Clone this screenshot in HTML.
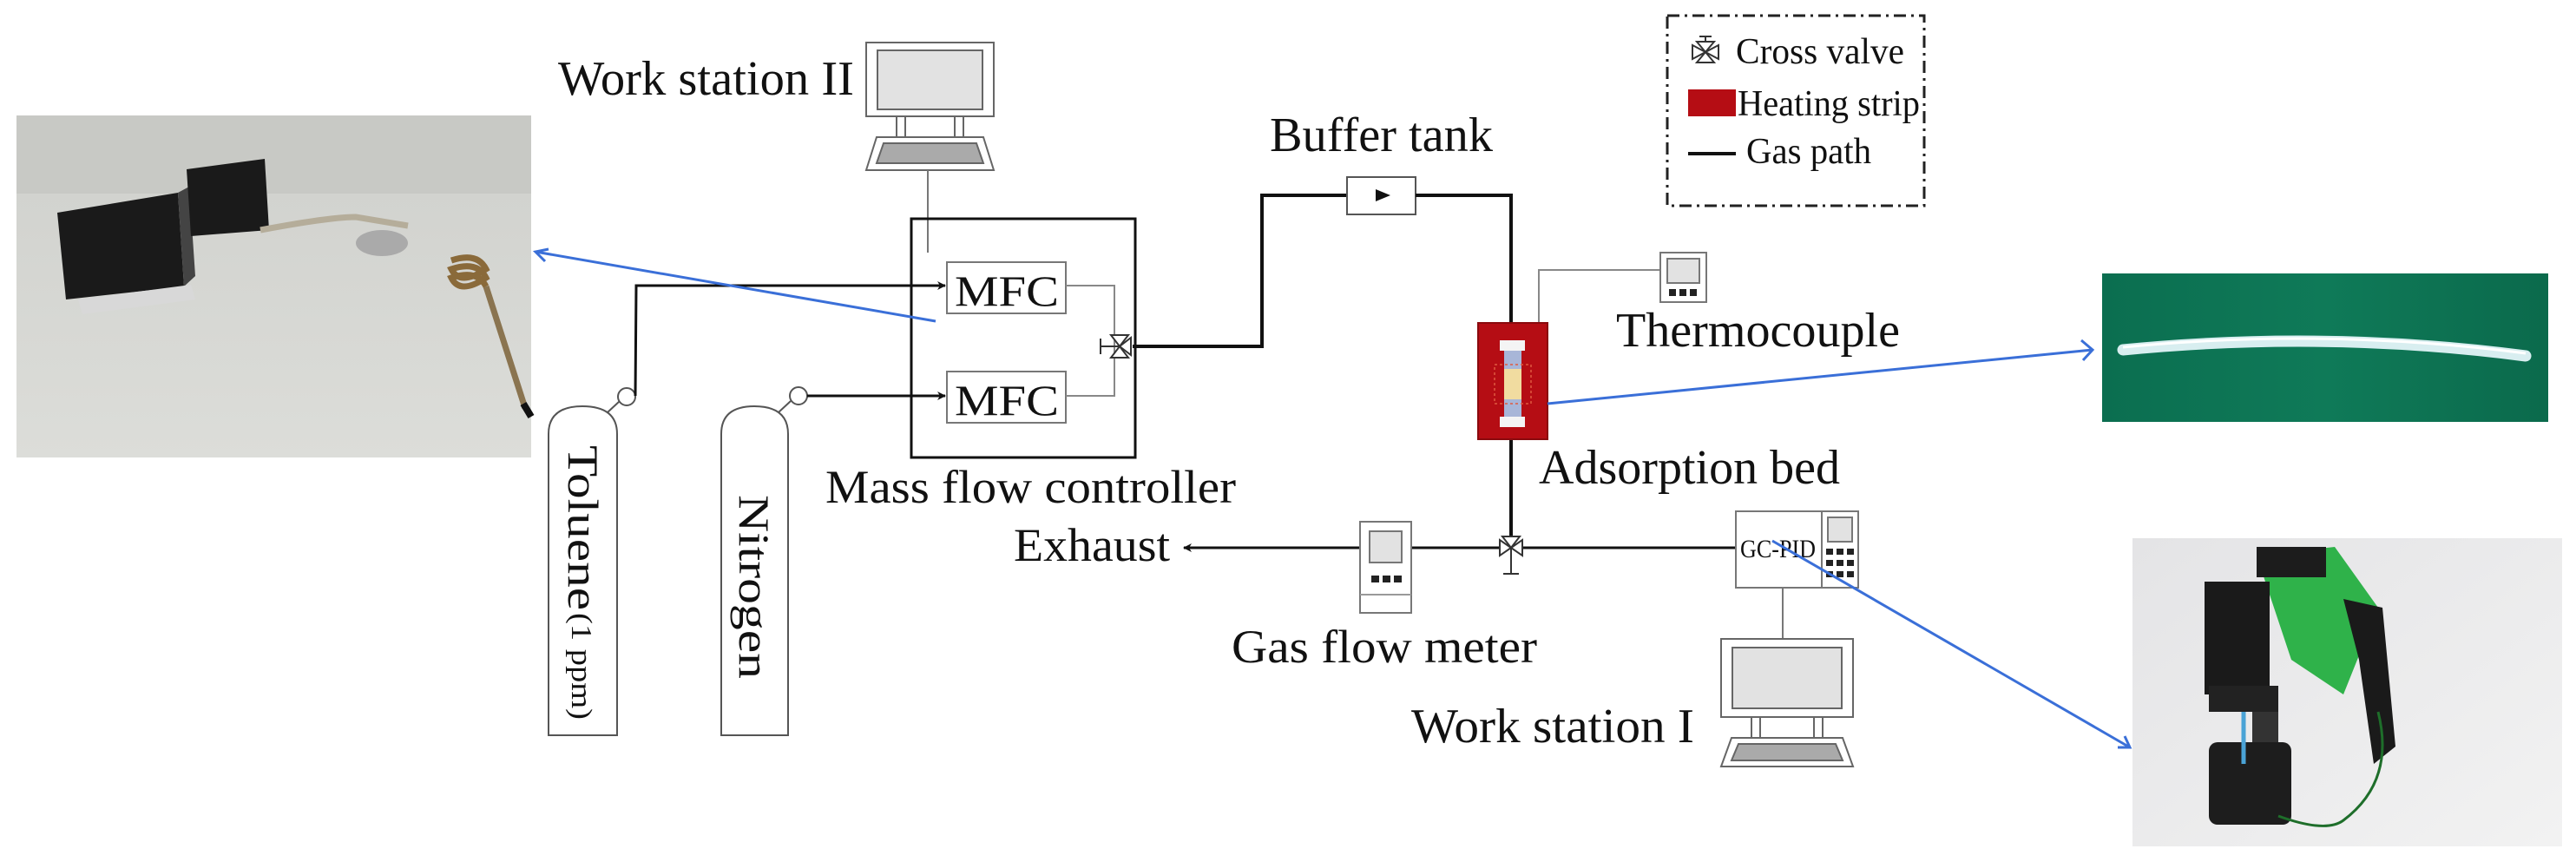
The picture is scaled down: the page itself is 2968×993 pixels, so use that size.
<!DOCTYPE html>
<html><head><meta charset="utf-8"><style>
html,body{margin:0;padding:0;background:#fff;}
svg{display:block;}
text{font-family:"Liberation Serif",serif;fill:#111;}
</style></head><body>
<svg width="2968" height="993" viewBox="0 0 2968 993" xmlns="http://www.w3.org/2000/svg">
<defs>
<marker id="ah" markerWidth="10" markerHeight="10" refX="9" refY="5" orient="auto" markerUnits="userSpaceOnUse"><path d="M0,0 L10,5 L0,10 L3,5 Z" fill="#111"/></marker>
<linearGradient id="gl" x1="0" y1="0" x2="0" y2="1"><stop offset="0" stop-color="#cfd0cc"/><stop offset="1" stop-color="#dcddd9"/></linearGradient>
<linearGradient id="gg" x1="0" y1="0" x2="1" y2="0"><stop offset="0" stop-color="#0b6e50"/><stop offset="0.5" stop-color="#0f7a58"/><stop offset="1" stop-color="#0b6a4c"/></linearGradient>
<linearGradient id="gb" x1="0" y1="0" x2="1" y2="1"><stop offset="0" stop-color="#e4e4e6"/><stop offset="1" stop-color="#f2f2f2"/></linearGradient>
</defs>

<!-- Left photo -->
<rect x="19" y="133" width="593" height="394" fill="url(#gl)"/>
<rect x="19" y="133" width="593" height="90" fill="#c8c9c5"/>
<polygon points="66,245 205,222 212,330 76,345" fill="#1a1a1a"/>
<polygon points="205,222 212,330 225,318 218,215" fill="#444"/>
<polygon points="215,195 305,183 310,265 220,272" fill="#1a1a1a"/>
<polygon points="90,345 220,328 225,345 95,362" fill="#d8d8d8"/>
<path d="M300,265 Q380,250 410,250 L470,260" stroke="#b5ad9a" stroke-width="7" fill="none"/>
<ellipse cx="440" cy="280" rx="30" ry="15" fill="#aaa"/>
<path d="M520,300 q30,-10 40,10 q-30,20 -40,0 q30,-10 40,10 q-30,20 -40,0 q30,-10 40,10" stroke="#8a6a3a" stroke-width="7" fill="none"/>
<path d="M560,330 L605,470" stroke="#8a7450" stroke-width="7"/>
<path d="M603,465 L612,480" stroke="#111" stroke-width="8"/>

<!-- Work station II -->
<text x="643" y="109" font-size="56" textLength="341" lengthAdjust="spacingAndGlyphs">Work station II</text>
<g stroke="#666" stroke-width="2" fill="#fff">
<rect x="998" y="49" width="147" height="85"/>
<rect x="1011" y="58" width="121" height="68" fill="#e2e2e2"/>
<rect x="1033" y="134" width="10" height="24"/><rect x="1100" y="134" width="10" height="24"/>
<polygon points="1010,158 1133,158 1145,196 998,196"/>
<polygon points="1018,165 1125,165 1133,188 1010,188" fill="#aaa"/>
</g>
<line x1="1069" y1="196" x2="1069" y2="291" stroke="#777" stroke-width="2"/>

<!-- MFC box -->
<rect x="1050" y="252" width="258" height="275" fill="none" stroke="#111" stroke-width="3"/>
<rect x="1091" y="302" width="137" height="59" fill="#fff" stroke="#777" stroke-width="2"/>
<rect x="1091" y="428" width="137" height="59" fill="#fff" stroke="#777" stroke-width="2"/>
<text x="1100" y="352" font-size="50" textLength="120" lengthAdjust="spacingAndGlyphs">MFC</text>
<text x="1100" y="478" font-size="50" textLength="120" lengthAdjust="spacingAndGlyphs">MFC</text>
<polyline points="1228,329 1284,329 1284,456 1228,456" fill="none" stroke="#888" stroke-width="2"/>
<!-- valve at 1290,399 -->
<g stroke="#333" stroke-width="2" fill="#fff">
<polygon points="1280,386 1300,386 1290,399"/><polygon points="1280,412 1300,412 1290,399"/>
<polygon points="1303,389 1303,409 1290,399"/>
<line x1="1268" y1="399" x2="1290" y2="399"/><line x1="1268" y1="390" x2="1268" y2="408"/>
</g>
<polyline points="1305,399 1454,399 1454,225 1552,225" fill="none" stroke="#111" stroke-width="4"/>
<rect x="1552" y="204" width="79" height="43" fill="#fff" stroke="#555" stroke-width="2"/>
<polygon points="1585,218 1602,225 1585,232" fill="#111"/>
<polyline points="1631,225 1741,225 1741,372" fill="none" stroke="#111" stroke-width="4"/>
<text x="1463" y="174" font-size="56" textLength="257" lengthAdjust="spacingAndGlyphs">Buffer tank</text>

<!-- cylinders -->
<g stroke="#555" stroke-width="2" fill="#fff">
<path d="M632,847 L632,500 Q632,468 671,468 Q711,468 711,500 L711,847 Z"/>
<path d="M831,847 L831,500 Q831,468 869,468 Q908,468 908,500 L908,847 Z"/>
<line x1="700" y1="475" x2="714" y2="462"/><ellipse cx="722" cy="457" rx="10" ry="10"/>
<line x1="897" y1="475" x2="911" y2="462"/><ellipse cx="920" cy="456" rx="10" ry="10"/>
</g>
<polyline points="732,456 733,329 1089,329" fill="none" stroke="#111" stroke-width="3" marker-end="url(#ah)"/>
<polyline points="930,456 1089,456" fill="none" stroke="#111" stroke-width="3" marker-end="url(#ah)"/>
<text transform="translate(655,513) rotate(90)" font-size="50" textLength="190" lengthAdjust="spacingAndGlyphs">Toluene</text>
<text transform="translate(659,706) rotate(90)" font-size="34" textLength="123" lengthAdjust="spacingAndGlyphs">(1 ppm)</text>
<text transform="translate(852,570) rotate(90)" font-size="50" textLength="212" lengthAdjust="spacingAndGlyphs">Nitrogen</text>

<text x="951" y="579" font-size="54" textLength="473" lengthAdjust="spacingAndGlyphs">Mass flow controller</text>
<text x="1168" y="646" font-size="54" textLength="180" lengthAdjust="spacingAndGlyphs">Exhaust</text>
<line x1="2000" y1="631" x2="1364" y2="631" stroke="#111" stroke-width="3" marker-end="url(#ah)"/>

<!-- gas flow meter -->
<g stroke="#777" stroke-width="2" fill="#fff">
<rect x="1567" y="601" width="59" height="105"/>
<rect x="1578" y="612" width="37" height="36" fill="#e2e2e2"/>
</g>
<rect x="1580" y="663" width="9" height="8" fill="#222"/><rect x="1593" y="663" width="9" height="8" fill="#222"/><rect x="1606" y="663" width="9" height="8" fill="#222"/>
<line x1="1567" y1="685" x2="1626" y2="685" stroke="#999" stroke-width="2"/>
<text x="1419" y="763" font-size="54" textLength="352" lengthAdjust="spacingAndGlyphs">Gas flow meter</text>

<!-- adsorption bed -->
<line x1="1741" y1="506" x2="1741" y2="620" stroke="#111" stroke-width="4"/>
<polyline points="1773,372 1773,311 1913,311" fill="none" stroke="#888" stroke-width="2"/>
<rect x="1703" y="372" width="80" height="134" fill="#b50d14" stroke="#8a0a0e" stroke-width="2"/>
<rect x="1733" y="402" width="20" height="82" fill="#a8b6d8"/>
<rect x="1733" y="425" width="20" height="35" fill="#f1dca0"/>
<rect x="1722" y="420" width="42" height="45" fill="none" stroke="#e05a40" stroke-width="1.5" stroke-dasharray="3,3"/>
<rect x="1728" y="392" width="29" height="12" fill="#f4f4f4"/>
<rect x="1728" y="480" width="29" height="12" fill="#f4f4f4"/>
<!-- thermocouple device -->
<g stroke="#777" stroke-width="2" fill="#fff">
<rect x="1913" y="291" width="53" height="57"/><rect x="1921" y="298" width="37" height="28" fill="#e2e2e2"/>
</g>
<rect x="1923" y="333" width="8" height="8" fill="#222"/><rect x="1935" y="333" width="8" height="8" fill="#222"/><rect x="1947" y="333" width="8" height="8" fill="#222"/>
<text x="1862" y="399" font-size="56" textLength="327" lengthAdjust="spacingAndGlyphs">Thermocouple</text>
<text x="1773" y="557" font-size="56" textLength="347" lengthAdjust="spacingAndGlyphs">Adsorption bed</text>

<!-- bottom valve -->
<g stroke="#333" stroke-width="2" fill="#fff">
<polygon points="1728,622 1728,640 1741,631"/><polygon points="1754,622 1754,640 1741,631"/>
<polygon points="1731,618 1751,618 1741,631"/>
<line x1="1741" y1="631" x2="1741" y2="661"/><line x1="1732" y1="661" x2="1750" y2="661"/>
</g>

<!-- GC-PID -->
<g stroke="#777" stroke-width="2" fill="#fff">
<rect x="2000" y="589" width="141" height="88"/>
<rect x="2099" y="589" width="42" height="88"/>
<rect x="2106" y="596" width="28" height="28" fill="#e2e2e2"/>
</g>
<g fill="#222">
<rect x="2104" y="632" width="8" height="7"/><rect x="2116" y="632" width="8" height="7"/><rect x="2128" y="632" width="8" height="7"/>
<rect x="2104" y="645" width="8" height="7"/><rect x="2116" y="645" width="8" height="7"/><rect x="2128" y="645" width="8" height="7"/>
<rect x="2104" y="658" width="8" height="7"/><rect x="2116" y="658" width="8" height="7"/><rect x="2128" y="658" width="8" height="7"/>
</g>
<text x="2005" y="642" font-size="30" textLength="87" lengthAdjust="spacingAndGlyphs" fill="#444">GC-PID</text>
<line x1="2054" y1="677" x2="2054" y2="736" stroke="#777" stroke-width="2"/>
<g stroke="#666" stroke-width="2" fill="#fff">
<rect x="1983" y="736" width="152" height="90"/>
<rect x="1996" y="746" width="126" height="70" fill="#e2e2e2"/>
<rect x="2018" y="826" width="10" height="24"/><rect x="2090" y="826" width="10" height="24"/>
<polygon points="1995,850 2123,850 2135,883 1983,883"/>
<polygon points="2003,857 2115,857 2123,876 1995,876" fill="#aaa"/>
</g>
<text x="1626" y="855" font-size="56" textLength="326" lengthAdjust="spacingAndGlyphs">Work station I</text>

<!-- legend -->
<rect x="1921" y="18" width="296" height="219" fill="none" stroke="#222" stroke-width="3" stroke-dasharray="14,6,3,6"/>
<g stroke="#333" stroke-width="2" fill="#fff">
<polygon points="1955,48 1975,48 1965,60"/><polygon points="1955,72 1975,72 1965,60"/>
<polygon points="1950,52 1950,68 1965,60"/><polygon points="1980,52 1980,68 1965,60"/>
<line x1="1965" y1="42" x2="1965" y2="48"/><line x1="1958" y1="42" x2="1972" y2="42"/>
</g>
<text x="2000" y="73" font-size="42" textLength="194" lengthAdjust="spacingAndGlyphs">Cross valve</text>
<rect x="1945" y="103" width="55" height="31" fill="#b50d14"/>
<text x="2002" y="133" font-size="42" textLength="210" lengthAdjust="spacingAndGlyphs">Heating strip</text>
<line x1="1945" y1="177" x2="2000" y2="177" stroke="#111" stroke-width="4"/>
<text x="2012" y="188" font-size="42" textLength="144" lengthAdjust="spacingAndGlyphs">Gas path</text>

<!-- green photo -->
<rect x="2422" y="315" width="514" height="171" fill="url(#gg)"/>
<path d="M2446,403 Q2680,380 2910,410" stroke="#d8eef0" stroke-width="13" fill="none" stroke-linecap="round"/>
<path d="M2446,400 Q2680,377 2910,407" stroke="#ffffff" stroke-width="3" fill="none"/>

<!-- bottom photo -->
<rect x="2457" y="620" width="495" height="355" fill="url(#gb)"/>
<polygon points="2600,640 2690,630 2740,700 2700,800 2640,760" fill="#2fb24a"/>
<rect x="2600" y="630" width="80" height="35" fill="#1c1c1c"/>
<polygon points="2700,690 2745,700 2760,860 2735,880 2718,760" fill="#1a1a1a"/>
<rect x="2540" y="670" width="75" height="130" fill="#1a1a1a"/>
<rect x="2545" y="790" width="80" height="30" fill="#222"/>
<rect x="2595" y="820" width="30" height="40" fill="#333"/>
<rect x="2545" y="855" width="95" height="95" rx="10" fill="#1d1d1d"/>
<path d="M2625,940 Q2680,960 2700,945 Q2760,900 2740,820" stroke="#1e6e2a" stroke-width="3" fill="none"/>
<path d="M2585,820 L2585,880" stroke="#4aa3d6" stroke-width="5"/>

<!-- blue pointer lines -->
<g stroke="#3a6fd8" stroke-width="3" fill="none">
<line x1="1078" y1="370" x2="617" y2="290"/>
<polyline points="632,287 617,290 628,301"/>
<line x1="1783" y1="465" x2="2411" y2="403"/>
<polyline points="2398,392 2411,403 2400,415"/>
<line x1="2042" y1="623" x2="2454" y2="861"/>
<polyline points="2440,861 2454,861 2448,848"/>
</g>
</svg>
</body></html>
